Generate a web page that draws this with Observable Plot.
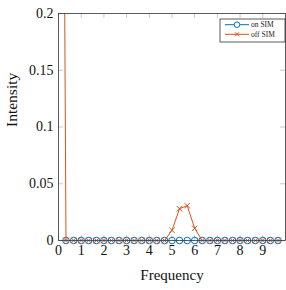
<!DOCTYPE html>
<html><head><meta charset="utf-8">
<script src="https://cdn.jsdelivr.net/npm/d3@7"></script>
<script src="https://cdn.jsdelivr.net/npm/@observablehq/plot@0.6"></script>
<style>
body{margin:0;background:#fff}
#wrap{position:relative;width:286px;height:290px}
#wrap svg{display:block}
</style>
</head><body><div id="wrap"></div>
<script>
// ---- data ----
const freq = [0.33,0.67,1.00,1.33,1.67,2.00,2.33,2.67,3.00,3.33,3.67,4.00,4.33,4.67,5.00,
              5.33,5.67,6.00,6.33,6.67,7.00,7.33,7.67,8.00,8.33,8.67,9.00,9.33,9.67];
const onSim  = [0,0,0,0,0,0,0,0,0,0,0,0,0,0,0,0,0,0,0,0,0,0,0,0,0,0,0,0,0];
const offSim = [0,0,0,0,0,0,0,0,0,0,0,0,0,0,0.009,0.028,0.0307,0.0107,0,0,0,0,0,0,0,0,0,0,0];
const offDcFreq = 0;      // DC component of "off SIM" (clipped, off the chart)
const offDcValue = 1.2;
const xTicks = [0,1,2,3,4,5,6,7,8,9];
const yTicks = [0,0.05,0.1,0.15,0.2];
const yTickLabels = ["0","0.05","0.1","0.15","0.2"];
const seriesNames = ["on SIM","off SIM"];
const colors = ["#0072BD","#D95319"];

const onData = freq.map((f,i)=>({f, v:onSim[i]}));
const offData = [{f:offDcFreq, v:offDcValue}, ...freq.map((f,i)=>({f, v:offSim[i]}))];
const yMax = 0.2;
const inRange = d => d.v <= yMax;

const W=286,H=290,mL=58,mR=1,mT=13,mB=50;
const iw=W-mL-mR, ih=H-mT-mB;
const font = "'Liberation Serif', serif";

const plot = Plot.plot({
  width:W, height:H, marginLeft:mL, marginRight:mR, marginTop:mT, marginBottom:mB,
  style:{fontFamily:font, fontSize:"14px", background:"white", color:"#111"},
  x:{domain:[0,10]},
  y:{domain:[0,yMax]},
  marks:[
    Plot.ruleX(xTicks,{x:d=>d, insetTop:ih-5, stroke:"#bbb", strokeWidth:0.8}),
    Plot.ruleX(xTicks,{x:d=>d, insetBottom:ih-5, stroke:"#bbb", strokeWidth:0.8}),
    Plot.ruleY(yTicks,{y:d=>d, insetRight:iw-5, stroke:"#bbb", strokeWidth:0.8}),
    Plot.ruleY(yTicks,{y:d=>d, insetLeft:iw-5, stroke:"#bbb", strokeWidth:0.8}),
    Plot.axisX({ticks:xTicks, tickSize:0, tickPadding:5, tickFormat:d=>String(d), label:null, fontSize:14}),
    Plot.axisY({ticks:yTicks, tickSize:0, tickPadding:5, tickFormat:d=>yTickLabels[yTicks.indexOf(d)], label:null, fontSize:14}),
    Plot.line(onData,{x:"f", y:"v", stroke:colors[0], strokeWidth:1, clip:true}),
    Plot.dot(onData.filter(inRange),{x:"f", y:"v", stroke:colors[0], symbol:"circle", r:3.3, strokeWidth:1, fill:"none"}),
    Plot.line(offData,{x:"f", y:"v", stroke:colors[1], strokeWidth:1, clip:true}),
    Plot.dot(offData.filter(inRange),{x:"f", y:"v", stroke:colors[1], symbol:"times", r:2.6, strokeWidth:1}),
    Plot.frame({stroke:"#333", strokeWidth:0.8}),
    Plot.text(["Intensity"],{text:d=>d, frameAnchor:"left", dx:-46, rotate:-90, fontSize:15.5}),
    Plot.text(["Frequency"],{text:d=>d, frameAnchor:"bottom", dy:39, fontSize:15})
  ]
});
const wrap = document.getElementById("wrap");
wrap.appendChild(plot);

// legend (inside the plot frame, top right)
const svg = d3.select(plot);
const lg = svg.append("g").attr("transform","translate(220,19)");
lg.append("rect").attr("width",65).attr("height",23).attr("fill","white").attr("stroke","#333").attr("stroke-width",0.8);
seriesNames.forEach((name,i)=>{
  const y = 5.7 + i*9.6;
  lg.append("line").attr("x1",5).attr("x2",29).attr("y1",y).attr("y2",y).attr("stroke",colors[i]).attr("stroke-width",1);
  if(i===0){
    lg.append("circle").attr("cx",17).attr("cy",y).attr("r",2.8).attr("fill","white").attr("stroke",colors[i]).attr("stroke-width",1);
  } else {
    lg.append("path").attr("d",`M${17-2},${y-2}L${17+2},${y+2}M${17-2},${y+2}L${17+2},${y-2}`).attr("stroke",colors[i]).attr("stroke-width",1);
  }
  lg.append("text").attr("x",31).attr("y",y).attr("dy","0.32em").attr("text-anchor","start")
    .attr("font-size",7.5).attr("font-family",font).attr("fill","#222").text(name);
});
</script>
</body></html>
